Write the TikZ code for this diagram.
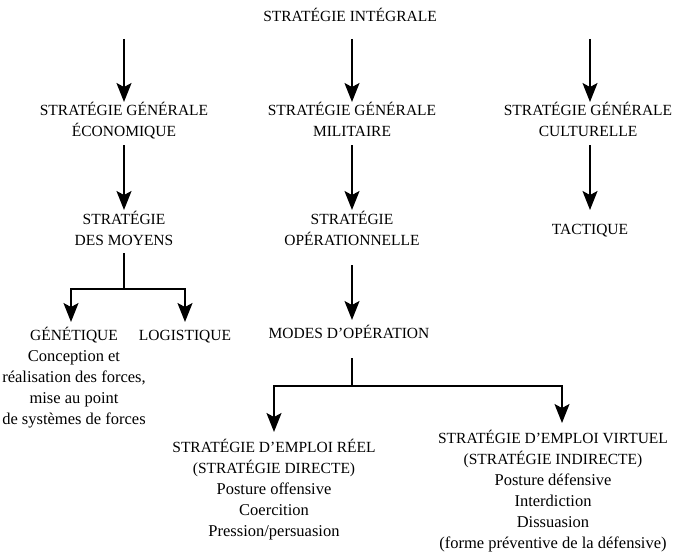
\documentclass[tikz,border=0pt]{standalone}
\usepackage{fontspec}
\setmainfont{Liberation Serif}
\usetikzlibrary{arrows.meta}
\newcommand\topst{\rule{0pt}{14pt}}
\newcommand\botst{\rule[-4pt]{0pt}{4pt}}
\newcommand\lc[1]{{\fontsize{16.5}{21}\selectfont #1}}
\tikzset{
  lbl/.style={inner sep=0pt, anchor=north, align=center, font=\fontsize{15.5}{21}\selectfont},
  line/.style={line width=1.4pt},
  arr/.style={line width=1.4pt, -{Stealth[length=19pt,width=15pt,inset=4pt]}},
}
\begin{document}
\begin{tikzpicture}[x=1pt,y=-1pt]
\useasboundingbox (0,0) rectangle (674,551);
% nodes (north = first baseline - 14)
\node[lbl] (title) at (350,7)  {\topst STRATÉGIE INTÉGRALE\botst};
\node[lbl] (eco) at (124,101) {\topst STRATÉGIE GÉNÉRALE\\ÉCONOMIQUE\botst};
\node[lbl] (mil) at (352,101) {\topst STRATÉGIE GÉNÉRALE\\MILITAIRE\botst};
\node[lbl] (cul) at (588,101) {\topst STRATÉGIE GÉNÉRALE\\CULTURELLE\botst};
\node[lbl] (moy) at (124,210) {\topst STRATÉGIE\\DES MOYENS\botst};
\node[lbl] (ope) at (352,210) {\topst STRATÉGIE\\OPÉRATIONNELLE\botst};
\node[lbl] (tac) at (590,220) {\topst TACTIQUE\botst};
\node[lbl] (gen) at (74,326) {\topst GÉNÉTIQUE\\\lc{Conception et}\\\lc{réalisation des forces,}\\\lc{mise au point}\\\lc{de systèmes de forces}\botst};
\node[lbl] (log) at (185,326) {\topst LOGISTIQUE\botst};
\node[lbl] (mod) at (349,324) {\topst MODES D’OPÉRATION\botst};
\node[lbl] (reel) at (274,438) {\topst STRATÉGIE D’EMPLOI RÉEL\\(STRATÉGIE DIRECTE)\\\lc{Posture offensive}\\\lc{Coercition}\\\lc{Pression/persuasion}\botst};
\node[lbl] (virt) at (553,429) {\topst STRATÉGIE D’EMPLOI VIRTUEL\\(STRATÉGIE INDIRECTE)\\\lc{Posture défensive}\\\lc{Interdiction}\\\lc{Dissuasion}\\\lc{(forme préventive de la défensive)}\botst};
% free ends below the title
\coordinate (s1) at (124,39);
\coordinate (s2) at (352,39);
\coordinate (s3) at (590,39);
\coordinate (bj) at (124,289);
\coordinate (gt) at (71,322);
\coordinate (mj) at (352,386);
\coordinate (rt) at (274,432);
\coordinate (vt) at (562,423);
% connectors
\draw[arr] (s1) -- ([yshift=-1pt]eco.north);
\draw[arr] (s2) -- ([yshift=-1pt]mil.north);
\draw[arr] (s3) -- ([yshift=-1pt]cul.north -| s3);
\draw[arr] ([yshift=-5pt]eco.south) -- (moy.north);
\draw[arr] ([yshift=-5pt]mil.south) -- (ope.north);
\draw[arr] ([yshift=-5pt]cul.south -| tac.north) -- ([yshift=10pt]tac.north);
\draw[line] ([yshift=-4pt]moy.south) -- (bj);
\draw[arr] (bj) -| (gt);
\draw[arr] (bj) -| ([yshift=4pt]log.north);
\draw[arr] ([yshift=-16pt]ope.south) -- ([yshift=4pt]mod.north -| ope.south);
\draw[line] ([yshift=-16pt]mod.south -| mj) -- (mj);
\draw[arr] (mj) -| (reel.north |- rt);
\draw[arr] (mj) -| (vt);
\end{tikzpicture}
\end{document}
